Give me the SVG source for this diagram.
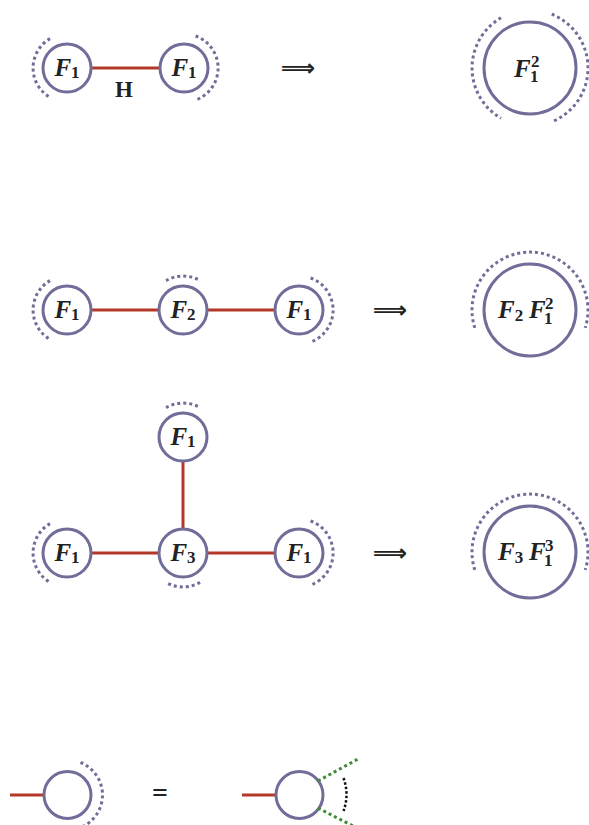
<svg xmlns="http://www.w3.org/2000/svg" width="589" height="825" viewBox="0 0 589 825">
<style>
.node{fill:none;stroke:#716d99;stroke-width:3}
.dot{fill:none;stroke:#716d99;stroke-width:3;stroke-dasharray:3 3}
.edge{stroke:#b3382a;stroke-width:3;fill:none}
.lbl{font-family:"Liberation Serif",serif;font-weight:bold;font-style:italic;font-size:25px;fill:#222}
.sub{font-style:normal;font-size:17px}
.arrow{font-family:"DejaVu Sans",sans-serif;font-weight:bold;font-size:24px;fill:#222}
</style>
<rect width="589" height="825" fill="#fff"/>
<g id="connectors">
<line class="edge" x1="91" y1="68" x2="160" y2="68"/>
<line class="edge" x1="91" y1="310" x2="159" y2="310"/>
<line class="edge" x1="207" y1="310" x2="275" y2="310"/>
<line class="edge" x1="91" y1="553" x2="159" y2="553"/>
<line class="edge" x1="207" y1="553" x2="275" y2="553"/>
<line class="edge" x1="183" y1="461" x2="183" y2="529"/>
<line class="edge" x1="10" y1="795" x2="44" y2="795"/>
<line class="edge" x1="242" y1="795" x2="276" y2="795"/>
</g>
<text x="124" y="97" text-anchor="middle" font-family="Liberation Serif,serif" font-weight="bold" font-size="23" fill="#222">H</text>
<!-- row 1 -->
<g id="r1a"><circle class="node" cx="67" cy="68" r="24"/><path class="dot" d="M50 38.6A34 34 0 0 0 50 97.4"/><text class="lbl" x="67" y="76" text-anchor="middle">F<tspan class="sub" dy="2">1</tspan></text></g>
<g id="r1b"><circle class="node" cx="184" cy="68" r="24"/><path class="dot" d="M195.6 36A34 34 0 0 1 195.6 100"/><text class="lbl" x="184" y="76" text-anchor="middle">F<tspan class="sub" dy="2">1</tspan></text></g>
<text class="arrow" x="298" y="76" text-anchor="middle">⟹</text>
<g id="r1c"><circle class="node" cx="530" cy="68" r="46"/><path class="dot" d="M501 17.8A58 58 0 0 0 501 118.2"/><path class="dot" d="M551.7 14.2A58 58 0 0 1 551.7 121.8"/><text class="lbl" x="514" y="77">F</text><text class="lbl sub" x="531" y="67">2</text><text class="lbl sub" x="530" y="82">1</text></g>
<!-- row 2 -->
<g id="r2a"><circle class="node" cx="67" cy="310" r="24"/><path class="dot" d="M50 280.6A34 34 0 0 0 50 339.4"/><text class="lbl" x="67" y="318" text-anchor="middle">F<tspan class="sub" dy="2">1</tspan></text></g>
<g id="r2b"><circle class="node" cx="183" cy="310" r="24"/><path class="dot" d="M166 280.6A34 34 0 0 1 200 280.6"/><text class="lbl" x="183" y="318" text-anchor="middle">F<tspan class="sub" dy="2">2</tspan></text></g>
<g id="r2c"><circle class="node" cx="299" cy="310" r="24"/><path class="dot" d="M310.6 278A34 34 0 0 1 310.6 342"/><text class="lbl" x="299" y="318" text-anchor="middle">F<tspan class="sub" dy="2">1</tspan></text></g>
<text class="arrow" x="390" y="318" text-anchor="middle">⟹</text>
<g id="r2d"><circle class="node" cx="530" cy="310" r="46"/><path class="dot" d="M474.8 327.9A58 58 0 1 1 585.2 327.9"/><text class="lbl" x="498" y="318">F<tspan class="sub" dy="3">2</tspan></text><text class="lbl" x="529" y="318">F</text><text class="lbl sub" x="545" y="309">2</text><text class="lbl sub" x="544" y="324">1</text></g>
<!-- row 3 -->
<g id="r3top"><circle class="node" cx="183" cy="437" r="24"/><path class="dot" d="M166 407.6A34 34 0 0 1 200 407.6"/><text class="lbl" x="183" y="445" text-anchor="middle">F<tspan class="sub" dy="2">1</tspan></text></g>
<g id="r3a"><circle class="node" cx="67" cy="553" r="24"/><path class="dot" d="M50 523.6A34 34 0 0 0 50 582.4"/><text class="lbl" x="67" y="561" text-anchor="middle">F<tspan class="sub" dy="2">1</tspan></text></g>
<g id="r3b"><circle class="node" cx="183" cy="553" r="24"/><path class="dot" d="M200 582.4A34 34 0 0 1 166 582.4"/><text class="lbl" x="183" y="561" text-anchor="middle">F<tspan class="sub" dy="2">3</tspan></text></g>
<g id="r3c"><circle class="node" cx="299" cy="553" r="24"/><path class="dot" d="M310.6 521A34 34 0 0 1 310.6 585"/><text class="lbl" x="299" y="561" text-anchor="middle">F<tspan class="sub" dy="2">1</tspan></text></g>
<text class="arrow" x="390" y="561" text-anchor="middle">⟹</text>
<g id="r3d"><circle class="node" cx="530" cy="552" r="46"/><path class="dot" d="M474.8 569.9A58 58 0 1 1 585.2 569.9"/><text class="lbl" x="498" y="560">F<tspan class="sub" dy="3">3</tspan></text><text class="lbl" x="529" y="560">F</text><text class="lbl sub" x="545" y="551">3</text><text class="lbl sub" x="544" y="566">1</text></g>
<!-- legend -->
<g id="legA"><circle class="node" cx="67.5" cy="795" r="23.5"/><path class="dot" d="M80.5 762.5A35 35 0 0 1 80.5 827.5"/></g>
<text x="160" y="802" text-anchor="middle" font-family="Liberation Serif,serif" font-weight="bold" font-size="28" fill="#222">=</text>
<g id="legB"><circle class="node" cx="299.5" cy="795" r="23.5"/>
<line x1="318" y1="781" x2="358" y2="759" stroke="#3e8a36" stroke-width="3" stroke-dasharray="3 3"/>
<line x1="318" y1="808" x2="355" y2="827" stroke="#3e8a36" stroke-width="3" stroke-dasharray="3 3"/>
<path d="M343.5 778A47 47 0 0 1 343.5 811" fill="none" stroke="#111" stroke-width="2.5" stroke-dasharray="2.5 2"/></g>
</svg>
